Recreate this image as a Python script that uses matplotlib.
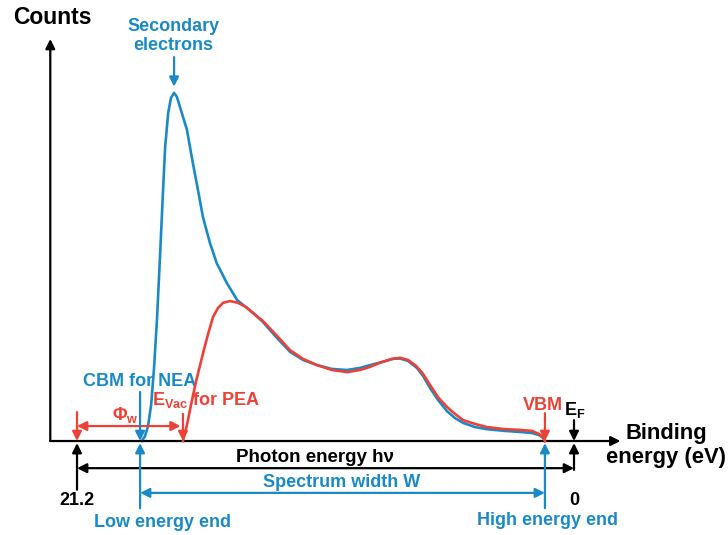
import numpy as np
import matplotlib.pyplot as plt

plt.rcParams['font.family'] = ['Liberation Sans', 'DejaVu Sans']
plt.rcParams['font.weight'] = 'bold'
plt.rcParams['mathtext.fontset'] = 'custom'
plt.rcParams['mathtext.rm'] = 'Liberation Sans:bold'
plt.rcParams['mathtext.bf'] = 'Liberation Sans:bold'
plt.rcParams['mathtext.it'] = 'Liberation Sans:bold'

BLUE = '#1a8ac6'
RED = '#ee4136'

# spectrum with negative electron affinity (binding energy in eV, counts in a.u.)
nea_energy = [18.43, 18.30, 18.17, 18.04, 17.92, 17.79, 17.66, 17.53, 17.44, 17.31,
              17.19, 17.06, 16.94, 16.81, 16.51, 16.26, 16.04, 15.83, 15.53, 15.24,
              14.81, 14.37, 13.69, 13.27, 12.71, 12.11, 11.56, 10.96, 10.32, 9.68,
              9.13, 8.70, 8.19, 7.72, 7.42, 7.08, 6.70, 6.44, 6.14, 5.80,
              5.42, 5.08, 4.73, 4.22, 3.71, 2.94, 2.30, 1.79, 1.49, 1.32, 1.24]
nea_counts = [0.0, 1.4, 4.3, 10.3, 20.4, 34.8, 52.9, 72.1, 84.5, 94.3,
              98.6, 100.0, 98.9, 96.0, 89.4, 79.9, 72.1, 64.4, 56.9, 51.1,
              45.4, 40.5, 36.8, 34.2, 29.9, 25.6, 23.3, 21.8, 20.7, 20.4,
              21.0, 21.8, 22.7, 23.6, 23.7, 23.0, 21.0, 18.7, 15.2, 11.8,
              8.6, 6.6, 5.2, 4.0, 3.4, 2.9, 2.6, 2.3, 1.7, 0.9, 0.0]

# spectrum with positive electron affinity
pea_energy = [16.68, 16.51, 16.34, 16.12, 15.95, 15.78, 15.61, 15.40, 15.19, 14.97,
              14.67, 14.33, 13.99, 13.65, 13.27, 12.71, 12.11, 11.56, 10.96, 10.32,
              9.68, 9.13, 8.70, 8.19, 7.76, 7.42, 7.08, 6.74, 6.44, 6.14,
              5.80, 5.42, 5.08, 4.73, 4.22, 3.71, 2.94, 2.30, 1.79, 1.49, 1.32, 1.24]
pea_counts = [0.0, 4.6, 10.3, 17.2, 21.8, 26.4, 30.7, 35.6, 38.2, 39.7,
              40.2, 39.7, 38.5, 36.5, 34.5, 30.5, 26.1, 23.6, 21.8, 20.4,
              19.8, 20.4, 21.3, 22.7, 23.6, 23.9, 23.3, 21.6, 19.3, 16.1,
              12.6, 9.8, 7.8, 6.0, 4.9, 4.0, 3.4, 3.2, 2.9, 2.0, 1.1, 0.0]

# energy markers (eV)
photon_energy = 21.2
fermi_level = 0.0
low_end = 18.51
vac_level = 16.68
high_end = 1.24

fig = plt.figure(figsize=(7.28, 5.35), dpi=100)
ax = fig.add_axes([0, 0, 1, 1])
ax.set_xlim(24.485, -6.569)
ax.set_ylim(-27.0, 126.7)
ax.axis('off')

ax.plot(nea_energy, nea_counts, color=BLUE, lw=1.9, zorder=3,
        solid_joinstyle='round')
ax.plot(pea_energy, pea_counts, color=RED, lw=1.9, zorder=4,
        solid_joinstyle='round')


def arrow(x0, y0, x1, y1, color, style='-|>'):
    ax.annotate('', xy=(x1, y1), xytext=(x0, y0),
                arrowprops=dict(arrowstyle=style, color=color, lw=1.6,
                                mutation_scale=14, shrinkA=0, shrinkB=0))


# axes
arrow(22.34, 0, -1.98, 0, 'black')
arrow(22.34, 0, 22.34, 115.5, 'black')
ax.text(22.27, 121.8, 'Counts', ha='center', va='center', fontsize=16.5)
ax.text(-3.93, -1.4, 'Binding\nenergy (eV)', ha='center', va='center',
        fontsize=15.8, linespacing=1.2)

# secondary electron peak
ax.text(17.1, 116.4, 'Secondary\nelectrons', ha='center', va='center',
        fontsize=13, color=BLUE, linespacing=1.1)
arrow(17.06, 110.3, 17.06, 101.8, BLUE)

# photon energy and Fermi level
arrow(photon_energy, 8.3, photon_energy, 0, RED)
arrow(photon_energy, -14.0, photon_energy, -0.6, 'black')
ax.text(photon_energy, -14.6, '21.2', ha='center', va='top', fontsize=13)
arrow(fermi_level, 6.0, fermi_level, 0, 'black')
arrow(fermi_level, -8.3, fermi_level, -0.6, 'black')
ax.text(fermi_level - 0.05, 8.8, r'E$_\mathregular{F}$', ha='center', va='center',
        fontsize=13)
ax.text(fermi_level, -14.6, '0', ha='center', va='top', fontsize=13)
arrow(photon_energy, -7.8, fermi_level, -7.8, 'black', '<|-|>')
ax.text(11.05, -4.6, 'Photon energy h\u03bd', ha='center', va='center',
        fontsize=13.5)

# work function
arrow(photon_energy, 4.3, vac_level + 0.1, 4.3, RED, '<|-|>')
ax.text(19.15, 7.4, '\u03a6$_\\mathregular{w}$', ha='center', va='center',
        fontsize=13, color=RED)
arrow(vac_level, 7.8, vac_level, 0, RED)
ax.text(15.7, 11.8, r'E$_\mathregular{Vac}$ for PEA', ha='center', va='center',
        fontsize=13, color=RED)

# low energy end
ax.text(low_end, 17.0, 'CBM for NEA', ha='center', va='center', fontsize=13,
        color=BLUE)
arrow(low_end, 14.1, low_end, 0, BLUE)
arrow(low_end, -19.3, low_end, -0.6, BLUE)
ax.text(17.57, -23.3, 'Low energy end', ha='center', va='center', fontsize=13,
        color=BLUE)

# high energy end
ax.text(high_end + 0.08, 10.3, 'VBM', ha='center', va='center', fontsize=13,
        color=RED)
arrow(high_end, 8.0, high_end, 0, RED)
arrow(high_end, -19.3, high_end, -0.6, BLUE)
ax.text(1.15, -22.9, 'High energy end', ha='center', va='center', fontsize=13,
        color=BLUE)

# spectrum width
arrow(low_end, -14.9, high_end, -14.9, BLUE, '<|-|>')
ax.text(9.9, -11.8, 'Spectrum width W', ha='center', va='center', fontsize=13,
        color=BLUE)

fig.savefig('out.png', dpi=100)
